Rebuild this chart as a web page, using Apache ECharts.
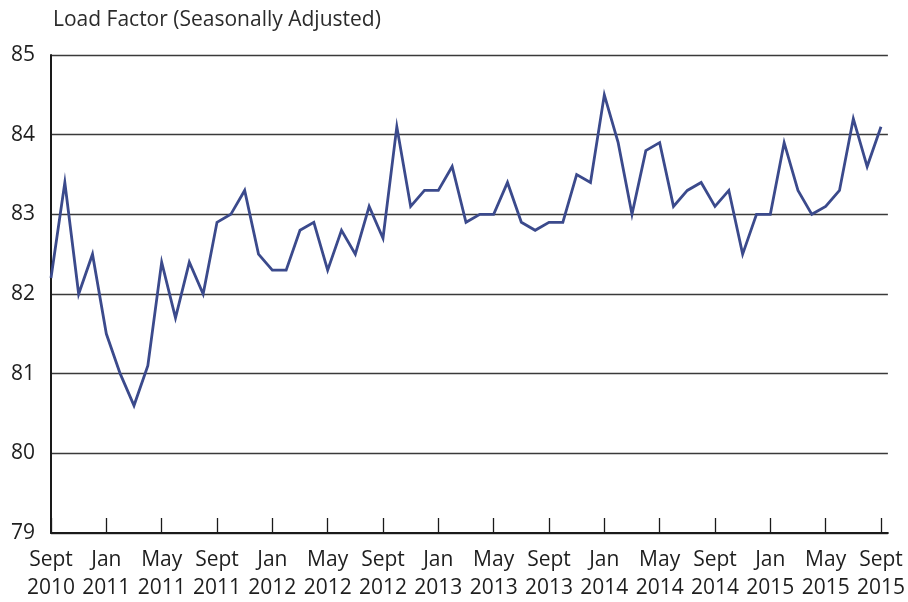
<!DOCTYPE html>
<html>
<head>
<meta charset="utf-8">
<script src="https://cdn.jsdelivr.net/npm/echarts@6/dist/echarts.min.js"></script>
<style>
html,body{margin:0;padding:0;background:#fff;}
#chart{width:908px;height:602px;}
</style>
</head>
<body>
<div id="chart"></div>
<script>
// Monthly load factor, Sept 2010 .. Sept 2015 (61 months)
var loadFactor = [
  82.2, 83.4, 82.0, 82.5, 81.5, 81.0, 80.6, 81.1, 82.4, 81.7, 82.4, 82.0,
  82.9, 83.0, 83.3, 82.5, 82.3, 82.3, 82.8, 82.9, 82.3, 82.8, 82.5, 83.1,
  82.7, 84.1, 83.1, 83.3, 83.3, 83.6, 82.9, 83.0, 83.0, 83.4, 82.9, 82.8,
  82.9, 82.9, 83.5, 83.4, 84.5, 83.9, 83.0, 83.8, 83.9, 83.1, 83.3, 83.4,
  83.1, 83.3, 82.5, 83.0, 83.0, 83.9, 83.3, 83.0, 83.1, 83.3, 84.2, 83.6,
  84.1
];
// Tick labels every 4 months
var tickMonths = ["Sept","Jan","May","Sept","Jan","May","Sept","Jan","May","Sept","Jan","May","Sept","Jan","May","Sept"];
var tickYears  = ["2010","2011","2011","2011","2012","2012","2012","2013","2013","2013","2014","2014","2014","2015","2015","2015"];
var tickStep = 4;
var titleText = "Load Factor (Seasonally Adjusted)";

var tickPositions = tickMonths.map(function(_, k){ return k * tickStep; });
var seriesData = loadFactor.map(function(v, i){ return [i, v]; });

var chart = echarts.init(document.getElementById('chart'), null, {renderer:'canvas'});
var font = '"Open Sans", "Noto Sans", sans-serif';
chart.setOption({
  animation: false,
  backgroundColor: '#ffffff',
  title: {
    text: titleText,
    left: 48,
    top: 5,
    textStyle: {fontFamily: font, fontSize: 21, fontWeight: 'normal', color: '#2b2b2b'}
  },
  grid: {left: 51, right: 20, top: 55, bottom: 68},
  xAxis: {
    type: 'value',
    min: 0,
    max: 60.5,
    interval: tickStep,
    axisLine: {show: true, onZero: false, lineStyle: {color: '#1a1a1a', width: 2}},
    axisTick: {show: true, inside: true, length: 15, customValues: tickPositions, lineStyle: {color: '#1a1a1a', width: 1.3}},
    splitLine: {show: false},
    axisLabel: {
      customValues: tickPositions,
      margin: 13,
      fontFamily: font,
      fontSize: 21,
      lineHeight: 28,
      color: '#1e1e1e',
      formatter: function(v){
        var k = Math.round(v / tickStep);
        return tickMonths[k] + '\n' + tickYears[k];
      }
    }
  },
  yAxis: {
    type: 'value',
    min: 79,
    max: 85,
    interval: 1,
    axisLine: {show: true, lineStyle: {color: '#1a1a1a', width: 2}},
    axisTick: {show: false},
    splitLine: {show: true, lineStyle: {color: '#3a3a3a', width: 1.3}},
    axisLabel: {margin: 16, fontFamily: font, fontSize: 21, color: '#1e1e1e'}
  },
  series: [{
    type: 'line',
    data: seriesData,
    showSymbol: false,
    symbol: 'none',
    lineStyle: {color: '#3b4a8c', width: 2.8, join: 'miter'},
    z: 3
  }]
});
</script>
</body>
</html>
